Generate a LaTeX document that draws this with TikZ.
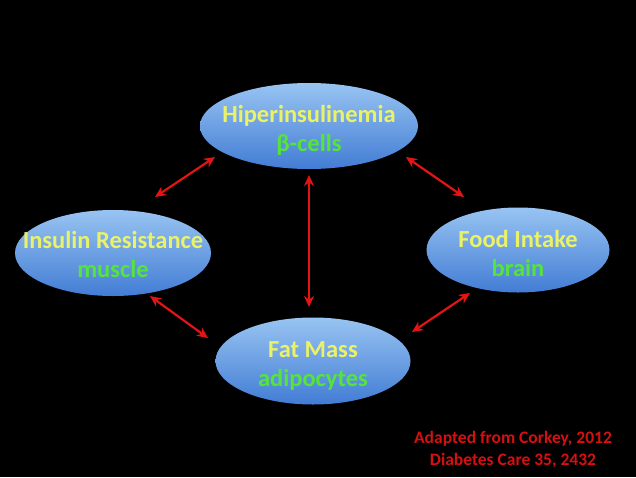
\documentclass[tikz,border=0pt]{standalone}
\usepackage{fontspec}
\setmainfont{Carlito}
\usetikzlibrary{shapes.geometric,arrows.meta}
\definecolor{titlecol}{RGB}{234,242,104}
\definecolor{subcol}{RGB}{84,228,60}
\definecolor{arrred}{RGB}{226,20,20}
\definecolor{credred}{RGB}{214,16,16}
\definecolor{blobtop}{RGB}{152,196,242}
\definecolor{blobbot}{RGB}{66,124,212}
\tikzset{
  blob/.style={ellipse, inner sep=0pt, top color=blobtop, bottom color=blobbot, draw=none},
  lbl/.style={align=center, inner sep=0pt, font=\fontsize{24.5}{29}\selectfont\bfseries},
  arr/.style={draw=arrred, line width=2.2pt, {Stealth[length=11pt,width=10pt]}-{Stealth[length=11pt,width=10pt]}},
  cred/.style={align=center, inner sep=0pt, text=credred, font=\fontsize{17.5}{22}\selectfont\bfseries}
}
\begin{document}
\begin{tikzpicture}[x=1pt,y=-1pt]
\fill[black] (0,0) rectangle (636,477);
\useasboundingbox (0,0) rectangle (636,477);
\node[blob, minimum width=218, minimum height=86] (top) at (309,126) {};
\node[blob, minimum width=196, minimum height=86] (left) at (113,253) {};
\node[blob, minimum width=183, minimum height=85] (right) at (518,250) {};
\node[blob, minimum width=195, minimum height=87] (bot) at (313,361) {};
\node[lbl] (topt) at (309,130) {\textcolor{titlecol}{Hiperinsulinemia}\\\textcolor{subcol}{β-cells}};
\node[lbl] (leftt) at (113,254) {\textcolor{titlecol}{Insulin Resistance}\\\textcolor{subcol}{muscle}};
\node[lbl] (rightt) at (518,253) {\textcolor{titlecol}{Food Intake}\\\textcolor{subcol}{brain}};
\node[lbl] (bott) at (313,366) {\textcolor{titlecol}{Fat Mass}\\\textcolor{subcol}{adipocytes}};
\draw[arr] ([shift={(-94,31)}]top.center) -- ([shift={(42,-56)}]left.center);
\draw[arr] ([shift={(97,31)}]top.center) -- ([shift={(-54,-53)}]right.center);
\draw[arr] ([shift={(0,49)}]top.center) -- ([shift={(-4,-54)}]bot.center);
\draw[arr] ([shift={(37,43)}]left.center) -- ([shift={(-105,-23)}]bot.center);
\draw[arr] ([shift={(99,-29)}]bot.center) -- ([shift={(-48,43)}]right.center);
\node[cred] (credit) at (513,450) {Adapted from Corkey, 2012\\Diabetes Care 35, 2432};
\end{tikzpicture}
\end{document}
